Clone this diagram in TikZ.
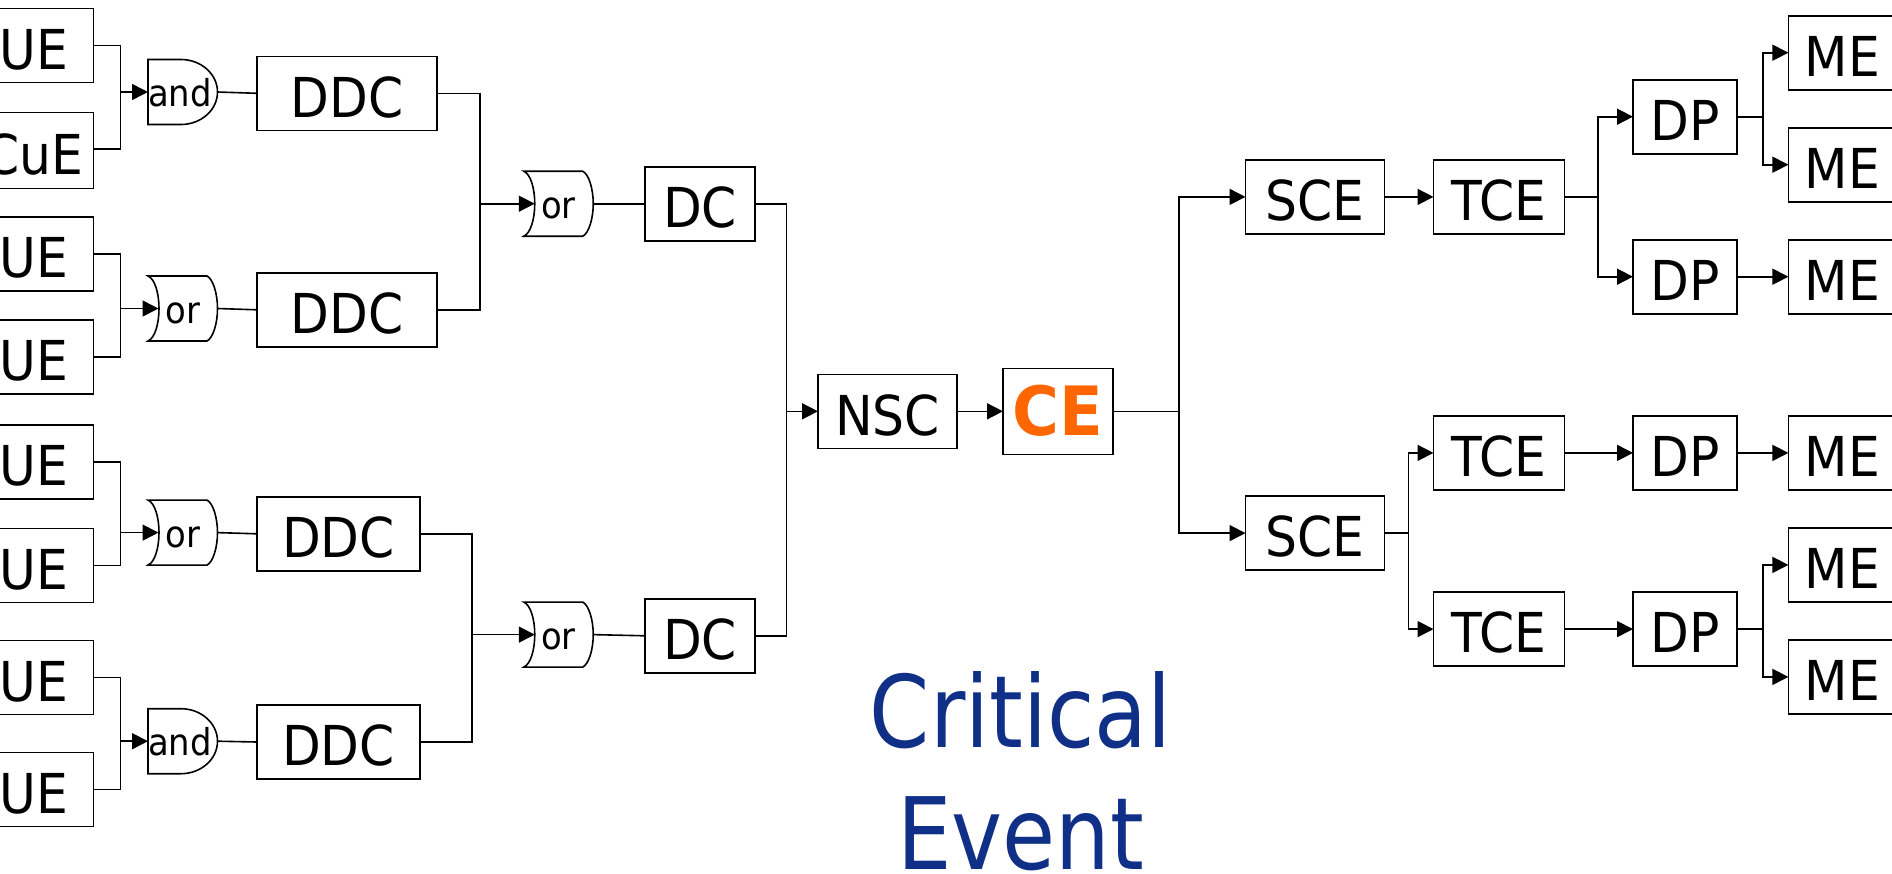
\documentclass[tikz,border=0pt]{standalone}
\usepackage{fontspec}
\setmainfont[FakeStretch=0.915]{DejaVu Sans}
\newfontfamily\titlefont[FakeStretch=0.862]{DejaVu Sans}
\newfontfamily\cefont[FakeStretch=0.94]{DejaVu Sans Bold}
\usetikzlibrary{arrows.meta}
\definecolor{titleblue}{HTML}{103088}
\definecolor{ceorange}{HTML}{FF6600}
\tikzset{
  wire/.style={line width=1.6pt,line join=miter},
  arr/.style={wire,-{Triangle[length=16pt,width=16pt]}},
  bx/.style={draw,line width=1.6pt,rectangle,inner sep=0pt,outer sep=0pt,minimum height=74pt,
    font=\fontsize{55}{60}\selectfont,text height=47.4pt,text depth=0pt},
  gatelabel/.style={rectangle,inner sep=0pt,outer sep=0pt,minimum width=69.5pt,minimum height=65pt,
    font=\fontsize{37}{40}\selectfont,text height=29pt,text depth=0pt},
}
\begin{document}
\begin{tikzpicture}[x=1pt,y=-1pt]
\useasboundingbox (0,0) rectangle (1892,873);
\clip (0,0) rectangle (1892,873);
\fill[white] (0,0) rectangle (1892,873);
% left column
\node[bx,minimum width=118.5pt] (ue1) at (34.25,45.5) {UE};
\node[bx,minimum width=118.5pt,minimum height=76pt] (cue) at (34.25,150.5) {CuE};
\node[bx,minimum width=118.5pt] (ue3) at (34.25,253.7) {UE};
\node[bx,minimum width=118.5pt] (ue4) at (34.25,357.2) {UE};
\node[bx,minimum width=118.5pt] (ue5) at (34.25,461.9) {UE};
\node[bx,minimum width=118.5pt] (ue6) at (34.25,565.6) {UE};
\node[bx,minimum width=118.5pt] (ue7) at (34.25,677.3) {UE};
\node[bx,minimum width=118.5pt] (ue8) at (34.25,789.6) {UE};
% gates
\node[gatelabel] (g1) at (182.75,92) {and\kern5.5pt};
\node[gatelabel] (g2) at (182.75,308.5) {or};
\node[gatelabel] (g3) at (182.75,532.6) {or};
\node[gatelabel] (g4) at (182.75,741.2) {and\kern5.5pt};
\node[gatelabel] (g5) at (558.5,203.7) {or};
\node[gatelabel] (g6) at (558.5,634.6) {or};
\foreach \g in {g1,g4}{
  \draw[wire] (\g.north west) -- ([xshift=33pt]\g.north west) .. controls +(20,0) and +(0,-18) .. (\g.east)
    .. controls +(0,18) and +(20,0) .. ([xshift=33pt]\g.south west) -- (\g.south west) -- cycle;
}
\foreach \g in {g2,g3,g5,g6}{
  \draw[wire] (\g.north west) .. controls +(7,3) and +(0,-15) .. ([xshift=11pt]\g.west)
    .. controls +(0,15) and +(7,-3) .. (\g.south west) -- ([xshift=-10.5pt]\g.south east)
    .. controls +(6,-3) and +(0,15) .. (\g.east)
    .. controls +(0,-15) and +(6,3) .. ([xshift=-10.5pt]\g.north east) -- cycle;
}
% DDC
\node[bx,minimum width=180pt] (d1) at (347,93.3) {DDC};
\node[bx,minimum width=180pt] (d2) at (347,309.8) {DDC};
\node[bx,minimum width=163pt] (d3) at (338.5,533.8) {DDC};
\node[bx,minimum width=163pt] (d4) at (338.5,742) {DDC};
\node[bx,minimum width=110pt] (dc1) at (700,203.7) {DC};
\node[bx,minimum width=110pt] (dc2) at (700,635.8) {DC};
\node[bx,minimum width=139pt] (nsc) at (887.5,411.3) {NSC};
\node[bx,minimum width=110pt,minimum height=86pt,text height=47.4pt,font=\cefont\fontsize{68}{72}\selectfont,text=ceorange] (ce) at (1058,411.3) {CE};
% right
\node[bx,minimum width=139pt] (sce1) at (1315,196.9) {SCE};
\node[bx,minimum width=139pt] (sce2) at (1315,533.1) {SCE};
\node[bx,minimum width=131pt] (tce1) at (1499,196.9) {TCE};
\node[bx,minimum width=131pt] (tce2) at (1499,452.9) {TCE};
\node[bx,minimum width=131pt] (tce3) at (1499,629.1) {TCE};
\node[bx,minimum width=104pt] (dp1) at (1685,116.7) {DP};
\node[bx,minimum width=104pt] (dp2) at (1685,276.7) {DP};
\node[bx,minimum width=104pt] (dp3) at (1685,452.9) {DP};
\node[bx,minimum width=104pt] (dp4) at (1685,629.1) {DP};
\node[bx,minimum width=108pt] (me1) at (1842.4,52.7) {ME};
\node[bx,minimum width=108pt] (me2) at (1842.4,164.7) {ME};
\node[bx,minimum width=108pt] (me3) at (1842.4,276.7) {ME};
\node[bx,minimum width=108pt] (me4) at (1842.4,452.9) {ME};
\node[bx,minimum width=108pt] (me5) at (1842.4,564.9) {ME};
\node[bx,minimum width=108pt] (me6) at (1842.4,676.9) {ME};
% title
\node[align=center,inner sep=0pt,text=titleblue,font=\titlefont\fontsize{100}{122}\selectfont] (title) at (1020.6,771) {Critical\\Event};
% junctions
\coordinate (j1) at (120.5,92);
\coordinate (j2) at (120.5,308.5);
\coordinate (j3) at (120.5,532.6);
\coordinate (j4) at (120.5,741.2);
\coordinate (j5) at (480,203.7);
\coordinate (j6) at (472,634.6);
\coordinate (j7) at (786.5,411.3);
\coordinate (j8) at (1179,411.3);
\coordinate (j9) at (1598,196.9);
\coordinate (j10) at (1763,116.7);
\coordinate (j11) at (1408.6,533.1);
\coordinate (j12) at (1763,629.1);
% connectors left
\draw[wire] (ue1.east) -| (j1);
\draw[wire] ([yshift=1.8pt]cue.east) -| (j1);
\draw[arr] (j1) -- (g1.west);
\draw[wire] (ue3.east) -| (j2);
\draw[wire] (ue4.east) -| (j2);
\draw[arr] (j2) -- ([xshift=10.5pt]g2.west);
\draw[wire] (ue5.east) -| (j3);
\draw[wire] (ue6.east) -| (j3);
\draw[arr] (j3) -- ([xshift=10.5pt]g3.west);
\draw[wire] (ue7.east) -| (j4);
\draw[wire] (ue8.east) -| (j4);
\draw[arr] (j4) -- (g4.west);
\draw[wire] (g1.east) -- (d1.west);
\draw[wire] (g2.east) -- (d2.west);
\draw[wire] (g3.east) -- (d3.west);
\draw[wire] (g4.east) -- (d4.west);
\draw[wire] (d1.east) -| (j5);
\draw[wire] (d2.east) -| (j5);
\draw[arr] (j5) -- ([xshift=11pt]g5.west);
\draw[wire] (d3.east) -| (j6);
\draw[wire] (d4.east) -| (j6);
\draw[arr] (j6) -- ([xshift=11pt]g6.west);
\draw[wire] (g5.east) -- (dc1.west);
\draw[wire] (g6.east) -- (dc2.west);
\draw[wire] (dc1.east) -| (j7);
\draw[wire] (dc2.east) -| (j7);
\draw[arr] (j7) -- (nsc.west);
\draw[arr] (nsc.east) -- (ce.west);
% connectors right
\draw[wire] (ce.east) -- (j8);
\draw[arr] (j8) |- (sce1.west);
\draw[arr] (j8) |- (sce2.west);
\draw[arr] (sce1.east) -- (tce1.west);
\draw[wire] (tce1.east) -- (j9);
\draw[arr] (j9) |- (dp1.west);
\draw[arr] (j9) |- (dp2.west);
\draw[wire] (dp1.east) -- (j10);
\draw[arr] (j10) |- (me1.west);
\draw[arr] (j10) |- (me2.west);
\draw[arr] (dp2.east) -- (me3.west);
\draw[wire] (sce2.east) -- (j11);
\draw[arr] (j11) |- (tce2.west);
\draw[arr] (j11) |- (tce3.west);
\draw[arr] (tce2.east) -- (dp3.west);
\draw[arr] (dp3.east) -- (me4.west);
\draw[arr] (tce3.east) -- (dp4.west);
\draw[wire] (dp4.east) -- (j12);
\draw[arr] (j12) |- (me5.west);
\draw[arr] (j12) |- (me6.west);
\end{tikzpicture}
\end{document}
